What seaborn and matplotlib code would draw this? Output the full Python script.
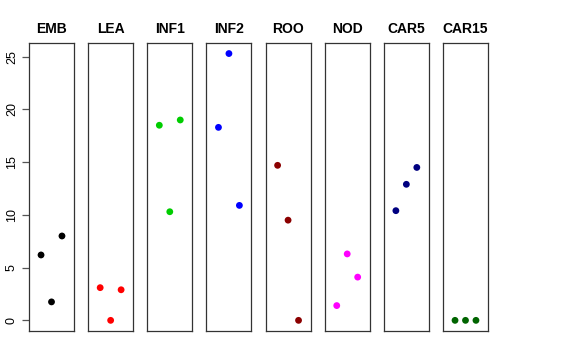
import pandas as pd
import matplotlib
matplotlib.use("Agg")
import matplotlib.pyplot as plt
import seaborn as sns

# tissues and the three replicate values
tissues = ["EMB", "LEA", "INF1", "INF2", "ROO", "NOD", "CAR5", "CAR15"]
colors = ["black", "red", "#00CD00", "blue", "#8B0000", "magenta", "#000080", "#006400"]
rep = [1, 2, 3]
emb = [6.2, 1.75, 8.0]
lea = [3.1, 0.0, 2.9]
inf1 = [18.5, 10.3, 19.0]
inf2 = [18.3, 25.3, 10.9]
roo = [14.7, 9.5, 0.0]
nod = [1.4, 6.3, 4.1]
car5 = [10.4, 12.9, 14.5]
car15 = [0.0, 0.0, 0.0]
values = [emb, lea, inf1, inf2, roo, nod, car5, car15]

rows = []
for t, v in zip(tissues, values):
    for r, y in zip(rep, v):
        rows.append({"tissue": t, "rep": r, "value": y})
df = pd.DataFrame(rows)

sns.set_style("white")
plt.rcParams["font.family"] = ["Liberation Sans", "DejaVu Sans"]

fig, axes = plt.subplots(1, 8, figsize=(5.76, 3.6), dpi=100, sharey=True)
plt.subplots_adjust(left=29/576, right=488/576, top=1-43/360, bottom=1-331/360, wspace=0.314)

for ax, t, c in zip(axes, tissues, colors):
    sub = df[df["tissue"] == t]
    sns.scatterplot(data=sub, x="rep", y="value", color=c, s=24, edgecolor="none", ax=ax)
    ax.set_xlim(-0.15, 4.15)
    ax.set_ylim(-1.01, 26.3)
    ax.set_xticks([])
    ax.set_xlabel("")
    ax.set_ylabel("")
    ax.set_title(t, fontsize=10, fontweight="bold", pad=7, color="black")
    for s in ax.spines.values():
        s.set_color("#333333")
        s.set_linewidth(0.9)
        s.set_visible(True)

axes[0].set_yticks([0, 5, 10, 15, 20, 25])
axes[0].tick_params(axis="y", left=True, length=5, width=0.9, color="#555555",
                    labelsize=9, pad=3, labelcolor="black")
for lab in axes[0].get_yticklabels():
    lab.set_rotation(90)
    lab.set_va("center")
for ax in axes[1:]:
    ax.tick_params(axis="y", left=False)

fig.savefig("out.png", dpi=100)
